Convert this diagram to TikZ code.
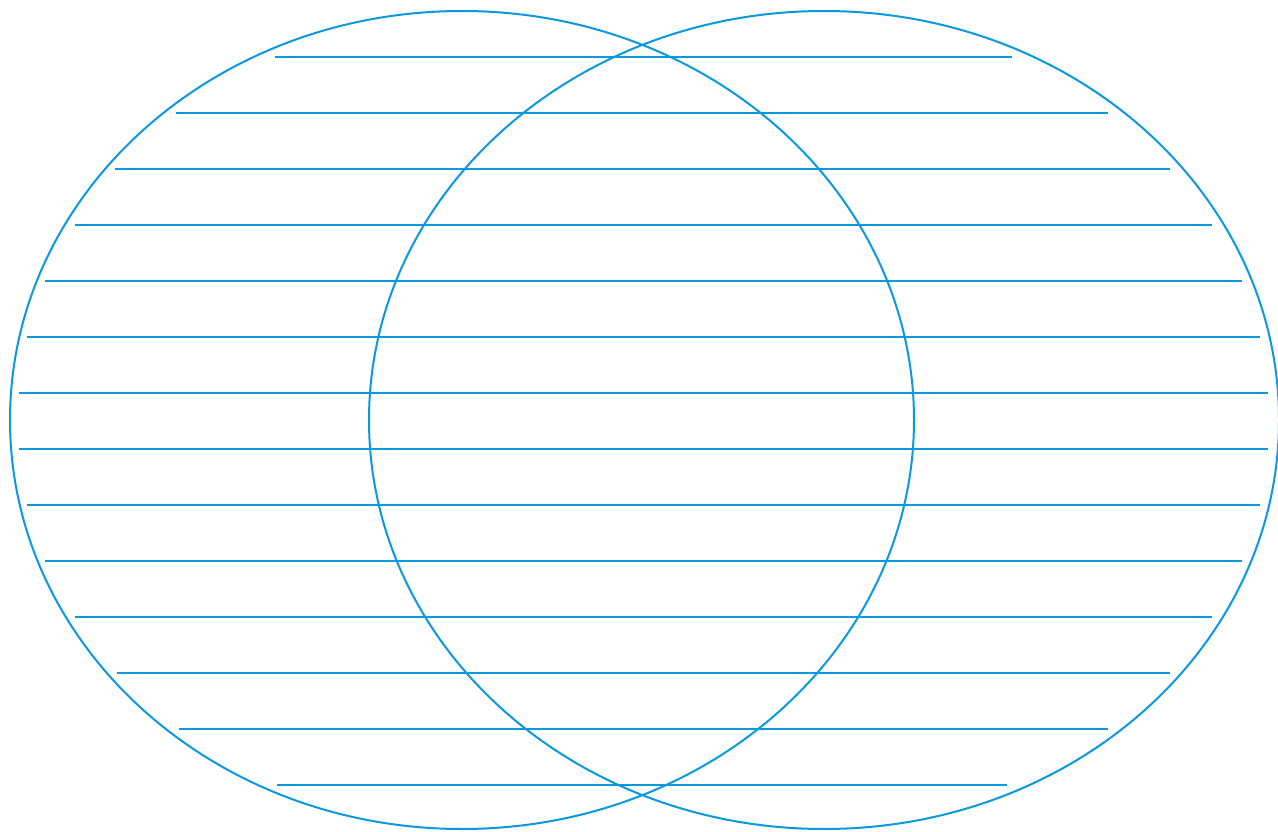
\documentclass[tikz,border=0pt]{standalone}
\usetikzlibrary{shapes.geometric}
\definecolor{venn}{HTML}{0A98E0}
\begin{document}
\begin{tikzpicture}[x=1pt,y=-1pt,
  ring/.style={draw=venn,line width=2pt},
  rule/.style={draw=venn,line width=1.8pt}]
\useasboundingbox (0,0) rectangle (1278,832);
\node[ring,ellipse,minimum width=904pt,minimum height=818pt,inner sep=0pt] (L) at (462,420) {};
\node[ring,ellipse,minimum width=910pt,minimum height=818pt,inner sep=0pt] (R) at (824,420) {};
\foreach \y/\a/\b in {57/275/1012,113/176/1108,169/115/1170,225/75/1212,281/45/1242,337/27/1260,393/19/1268,449/19/1268,505/27/1260,561/45/1242,617/75/1212,673/117/1170,729/179/1108,785/277/1007}{
  \coordinate (a\y) at (\a,\y);
  \coordinate (b\y) at (\b,\y);
  \draw[rule] (a\y) -- (b\y);
}
\end{tikzpicture}
\end{document}
